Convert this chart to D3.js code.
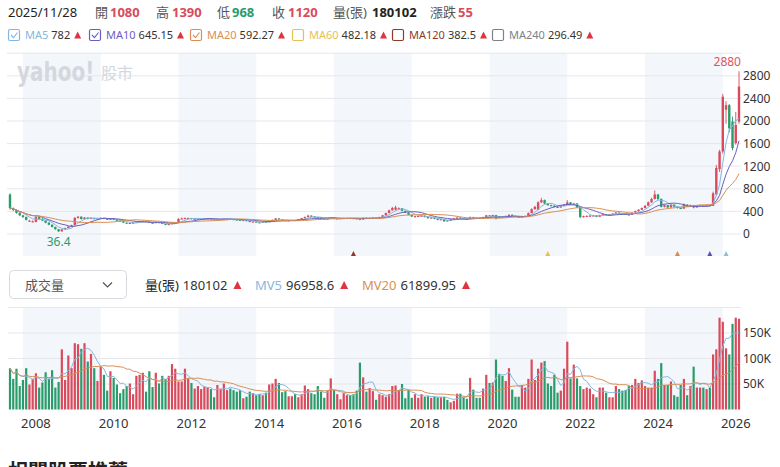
<!DOCTYPE html>
<html>
<head>
<meta charset="utf-8">
<script src="https://cdn.jsdelivr.net/npm/d3@7"></script>
<style>
  body { margin: 0; background: #fff; }
  svg { font-family: "Noto Sans", "Noto Sans CJK TC", sans-serif; }
</style>
</head>
<body>
<svg id="chart" width="780" height="467"></svg>
<script>
// Monthly candles, Feb 2007 .. Nov 2025 (one row per year)
var startYear = 2007, startMonth = 2;

var opens = [
  700,460,425,375,330,300,225,215,215,300,270,
  240,200,165,125,85,48,80,105,130,155,285,305,
  265,290,270,285,265,275,285,268,258,268,252,240,
  225,200,185,195,200,212,222,230,215,200,195,210,
  195,180,162,175,190,202,265,270,275,282,260,265,
  262,262,265,272,260,250,255,258,262,270,262,255,
  250,235,245,230,210,220,205,200,215,210,230,250,
  275,260,245,235,240,245,240,260,280,300,325,310,
  295,280,270,265,270,285,270,275,278,282,285,280,
  275,270,255,285,275,285,290,280,300,330,370,420,
  430,440,455,410,380,340,300,305,310,325,300,280,
  290,270,250,260,240,230,255,275,290,280,272,265,
  300,290,285,280,300,330,320,335,300,310,300,320,
  340,320,305,295,305,320,370,440,430,560,600,540,
  510,500,480,470,500,520,560,520,540,470,300,305,
  310,315,330,305,335,350,340,350,360,380,365,355,
  345,340,380,405,430,460,500,560,620,700,620,480,
  510,470,520,480,460,450,520,490,510,470,500,510,
  490,510,500,700,1150,1460,2200,2280,1990,1610,1990
];
var closes = [
  460,425,375,330,300,250,235,225,300,270,240,
  200,165,125,85,48,80,105,130,155,285,305,265,
  290,270,285,265,275,285,268,258,268,252,240,225,
  200,185,195,200,212,222,230,215,200,195,210,195,
  180,162,175,190,202,265,275,282,282,265,270,272,
  268,270,272,260,250,258,262,268,270,262,255,250,
  242,245,230,215,220,205,200,215,210,230,250,275,
  260,245,235,240,245,240,260,280,300,325,310,295,
  280,270,265,270,285,270,275,278,282,285,280,275,
  270,255,285,275,285,290,282,300,330,370,420,460,
  470,455,410,380,340,310,315,320,325,300,280,290,
  270,250,260,225,230,260,275,290,280,272,265,300,
  290,285,280,300,330,320,335,280,290,300,320,340,
  320,305,295,305,320,370,440,480,560,600,540,510,
  500,480,470,500,520,560,520,540,470,300,315,320,
  325,330,305,335,350,340,350,360,380,365,355,345,
  340,380,405,430,460,500,560,620,700,620,480,510,
  470,520,480,460,450,520,490,510,470,500,510,490,
  510,500,720,1170,1460,2430,2280,1870,1520,1930,2610
];
var highs = [
  720,470,435,385,340,310,250,240,315,305,280,
  245,210,170,130,90,90,115,140,165,300,320,315,
  300,295,295,290,285,295,290,272,275,270,255,245,
  228,205,200,205,218,228,236,232,218,205,215,212,
  198,184,180,196,208,280,290,292,290,285,278,278,
  275,276,280,275,262,264,268,274,276,272,265,258,
  252,250,248,232,226,222,210,220,220,236,256,282,
  280,262,248,246,250,248,266,286,310,340,330,315,
  300,284,274,276,292,288,280,284,288,292,288,284,
  280,275,292,290,290,296,292,306,338,378,432,480,
  500,470,460,415,385,345,322,326,332,328,305,296,
  294,275,266,265,245,266,280,298,295,285,276,310,
  305,294,290,306,338,334,342,340,306,315,326,348,
  345,325,310,312,328,380,455,500,580,640,610,548,
  520,510,488,510,530,600,565,550,545,480,325,330,
  335,338,335,342,358,355,356,366,388,384,370,360,
  350,386,412,438,470,510,575,640,770,710,630,525,
  515,535,525,490,470,540,525,520,515,510,520,515,
  520,520,750,1220,1490,2480,2350,2300,2080,2160,2880
];
var lows = [
  430,405,360,320,285,240,215,205,205,255,230,
  190,155,115,75,36.4,40,75,100,120,150,270,255,
  255,260,262,258,260,268,260,250,252,245,232,218,
  192,178,180,188,195,208,218,210,195,188,190,190,
  175,155,158,170,186,198,258,262,268,258,255,258,
  256,258,260,255,245,246,250,254,258,256,250,244,
  236,230,225,208,205,198,194,196,204,206,226,246,
  255,240,230,230,236,234,236,255,275,295,300,288,
  272,264,258,260,265,264,266,270,274,278,274,270,
  264,245,250,270,270,280,276,276,296,325,365,410,
  420,430,400,370,330,300,292,298,305,292,272,275,
  262,244,245,215,222,226,250,270,274,266,260,260,
  284,278,274,276,296,312,315,255,282,294,295,315,
  312,298,288,290,300,315,365,430,420,550,530,500,
  490,470,460,465,495,510,510,510,460,280,290,298,
  300,305,295,300,328,332,334,344,355,358,348,338,
  332,336,375,398,425,452,495,550,610,600,470,470,
  455,465,470,450,440,445,480,482,455,465,492,482,
  485,490,495,680,1100,1420,1950,1800,1480,1580,1950
];
// volume in thousand lots
var volumes = [
  81,60,80,46,58,81,49,60,71,43,53,
  73,60,77,43,54,118,58,106,81,130,128,119,
  130,94,109,81,56,84,68,37,75,62,49,32,
  40,46,51,30,66,68,72,35,75,44,72,51,
  66,60,66,89,80,55,55,80,61,52,41,46,
  40,45,43,40,24,48,41,51,38,41,38,35,
  38,22,25,35,32,28,30,28,33,49,51,60,
  52,34,36,26,26,30,24,30,47,40,32,30,
  46,35,23,37,61,38,30,20,32,28,28,30,
  37,92,63,35,42,36,19,30,28,25,30,46,
  47,38,50,22,38,23,30,23,30,25,26,23,
  25,24,24,25,19,14,17,31,31,25,21,62,
  39,23,23,41,68,52,53,98,70,66,56,81,
  39,25,25,48,43,60,98,58,80,92,95,51,
  46,68,33,37,80,133,61,88,61,46,40,43,
  41,30,24,43,43,33,24,24,46,40,37,38,
  46,48,60,52,57,46,43,43,76,60,91,48,
  48,55,28,25,48,60,28,46,84,43,43,43,
  40,43,108,118,180,172,120,108,168,180,178
];

var priceTicks = [0, 400, 800, 1200, 1600, 2000, 2400, 2800];
var priceGrid = [0, 400, 800, 1200, 1600, 2000, 2400, 2800, 3200];
var volTicks = [50, 100, 150];
var volGrid = [50, 100, 150, 200];
var yearLabels = ["2008","2010","2012","2014","2016","2018","2020","2022","2024","2026"];
var shadeStarts = ["2007-06","2011-06","2015-06","2019-06","2023-06"];
var markerMonths = ["2015-12","2020-12","2024-04","2025-02","2025-07"];
var markerColors = ["#8c3b2b","#e8bf4f","#d9894a","#5d50b3","#8fbde0"];

var quoteLabels = ["開","高","低","收","量(張)","漲跌"];
var quoteValues = ["1080","1390","968","1120","180102","55"];
var maNames = ["MA5","MA10","MA20","MA60","MA120","MA240"];
var maValues = ["782","645.15","592.27","482.18","382.5","296.49"];
var volLegendNames = ["量(張)","MV5","MV20"];
var volLegendValues = ["180102","96958.6","61899.95"];

// month categories
var months = closes.map(function(d, k) {
  var m = startMonth - 1 + k;
  return (startYear + Math.floor(m / 12)) + "-" + String(m % 12 + 1).padStart(2, "0");
});

var RED = "#d94b5c", GREEN = "#2a9b6b", TXT = "#333";
var maColors = ["#86b7e0","#6a5fc1","#d98f55","#e8bf4f","#8c3b2b","#7d8188"];

var svg = d3.select("#chart");

var x = d3.scaleBand().domain(months).range([8.38, 740.62]);
var bw = x.bandwidth();
var cx = function(m) { return x(m) + bw / 2; };
var yP = d3.scaleLinear().domain([0, 3200]).range([234, 53.2]);
var yV = d3.scaleLinear().domain([0, 200]).range([409.5, 307.5]);

function movingAvg(arr, n) {
  return arr.map(function(d, i) {
    return d3.mean(arr.slice(Math.max(0, i - n + 1), i + 1));
  });
}

function triangle(g, x0, cy, color, w) {
  w = w || 7;
  g.append("path")
    .attr("d", "M" + x0 + "," + (cy + w / 2) + "L" + (x0 + w) + "," + (cy + w / 2) + "L" + (x0 + w / 2) + "," + (cy - w / 2) + "Z")
    .attr("fill", color);
}

// ---- header row
var head = svg.append("g").attr("font-size", 13);
head.append("text").attr("x", 8).attr("y", 17).attr("fill", "#222").text("2025/11/28");
var qLabelX = [95, 156, 217, 272, 333, 430];
var qValueX = [110, 172, 232, 288, 372, 458];
var qColors = [RED, RED, GREEN, RED, "#222", RED];
quoteLabels.forEach(function(l, k) {
  head.append("text").attr("x", qLabelX[k]).attr("y", 17).attr("fill", "#555").text(l);
  head.append("text").attr("x", qValueX[k]).attr("y", 17).attr("fill", qColors[k])
    .attr("font-weight", "bold").text(quoteValues[k]);
});

// ---- MA legend row
var leg = svg.append("g").attr("font-size", 11);
var boxX = [8, 89, 190, 292, 392, 492];
var checked = [true, true, true, false, false, false];
maNames.forEach(function(n, k) {
  var lx = boxX[k];
  leg.append("rect").attr("x", lx + 0.5).attr("y", 29.5).attr("width", 11).attr("height", 11)
    .attr("rx", 1.5).attr("fill", "#fff").attr("stroke", maColors[k]).attr("stroke-width", 1.2);
  if (checked[k]) {
    leg.append("path").attr("d", "M" + (lx + 3) + ",35 L" + (lx + 5.5) + ",37.6 L" + (lx + 9.5) + ",32.5")
      .attr("fill", "none").attr("stroke", maColors[k]).attr("stroke-width", 1.1);
  }
  var t1 = leg.append("text").attr("x", lx + 17).attr("y", 39).attr("fill", maColors[k]).text(n);
  var vx = lx + 17 + t1.node().getComputedTextLength() + 3;
  var t2 = leg.append("text").attr("x", vx).attr("y", 39).attr("fill", TXT).text(maValues[k]);
  triangle(leg, vx + t2.node().getComputedTextLength() + 4, 35, "#e0323f", 7);
});

// ---- price panel
var price = svg.append("g");
shadeStarts.forEach(function(s) {
  var i0 = months.indexOf(s);
  var i1 = Math.min(i0 + 24, months.length - 1);
  price.append("rect").attr("x", cx(months[i0])).attr("y", 53)
    .attr("width", cx(months[i1]) - cx(months[i0])).attr("height", 203).attr("fill", "#f3f6fa");
});
price.selectAll(".pgrid").data(priceGrid).enter().append("line")
  .attr("x1", 7).attr("x2", 741).attr("y1", d => yP(d)).attr("y2", d => yP(d))
  .attr("stroke", "#e5e7ea").attr("stroke-width", 1);

// watermark
price.append("text").attr("transform", "translate(17,81) scale(1,1.3)")
  .attr("font-size", 20).attr("font-weight", "bold").attr("font-family", "DejaVu Sans")
  .attr("fill", "#d4d8de").text("yahoo!");
price.append("text").attr("x", 101).attr("y", 79).attr("font-size", 16).attr("fill", "#d4d8de").text("股市");

price.selectAll(".ptick").data(priceTicks).enter().append("text")
  .attr("x", 743).attr("y", d => yP(d)).attr("dy", "0.36em").attr("font-size", 12)
  .attr("fill", TXT).text(d => d);

var up = function(i) { return closes[i] >= opens[i]; };
var candles = price.append("g");
candles.selectAll(".wick").data(months).enter().append("line")
  .attr("x1", d => cx(d)).attr("x2", d => cx(d))
  .attr("y1", (d, i) => yP(highs[i])).attr("y2", (d, i) => yP(lows[i]))
  .attr("stroke", (d, i) => up(i) ? RED : GREEN).attr("stroke-width", 0.9);
candles.selectAll(".body").data(months).enter().append("rect")
  .attr("x", d => cx(d) - 1.2).attr("width", 2.4)
  .attr("y", (d, i) => yP(Math.max(opens[i], closes[i])))
  .attr("height", (d, i) => Math.max(1, Math.abs(yP(opens[i]) - yP(closes[i]))))
  .attr("fill", (d, i) => up(i) ? RED : GREEN);

[[5, 0], [10, 1], [20, 2]].forEach(function(p) {
  var ma = movingAvg(closes, p[0]);
  price.append("path").datum(ma)
    .attr("d", d3.line().x((d, i) => cx(months[i])).y(d => yP(d)))
    .attr("fill", "none").attr("stroke", maColors[p[1]]).attr("stroke-width", 1);
});

var hiIdx = d3.maxIndex(highs), loIdx = d3.minIndex(lows);
price.append("text").attr("x", cx(months[hiIdx]) + 2).attr("y", yP(highs[hiIdx]) - 5)
  .attr("text-anchor", "end").attr("font-size", 12).attr("fill", "#e0525e").text(highs[hiIdx]);
price.append("text").attr("x", cx(months[loIdx])).attr("y", yP(lows[loIdx]) + 14)
  .attr("text-anchor", "middle").attr("font-size", 12).attr("fill", GREEN).text(lows[loIdx]);

markerMonths.forEach(function(m, k) {
  triangle(price, cx(m) - 2.5, 253.5, markerColors[k], 5);
});

// ---- volume header
var vh = svg.append("g").attr("font-size", 13);
vh.append("rect").attr("x", 9.5).attr("y", 270.5).attr("width", 117).attr("height", 28).attr("rx", 4)
  .attr("fill", "#fff").attr("stroke", "#d7dbe0");
vh.append("text").attr("x", 25).attr("y", 289.5).attr("fill", "#555").text("成交量");
vh.append("path").attr("d", "M103,282.5 L107.5,287 L112,282.5").attr("fill", "none")
  .attr("stroke", "#555").attr("stroke-width", 1.2);
var vNameX = [145, 255, 362];
var vColors = ["#222", "#86b7e0", "#d98f55"];
volLegendNames.forEach(function(n, k) {
  var t1 = vh.append("text").attr("x", vNameX[k]).attr("y", 289.5).attr("fill", vColors[k]).text(n);
  var vx = vNameX[k] + t1.node().getComputedTextLength() + 4;
  var t2 = vh.append("text").attr("x", vx).attr("y", 289.5).attr("fill", TXT).text(volLegendValues[k]);
  triangle(vh, vx + t2.node().getComputedTextLength() + 6, 285, "#e0323f", 8);
});

// ---- volume panel
var vol = svg.append("g");
shadeStarts.forEach(function(s) {
  var i0 = months.indexOf(s);
  var i1 = Math.min(i0 + 24, months.length - 1);
  vol.append("rect").attr("x", cx(months[i0])).attr("y", 307.5)
    .attr("width", cx(months[i1]) - cx(months[i0])).attr("height", 102).attr("fill", "#f3f6fa");
});
vol.selectAll(".vgrid").data(volGrid).enter().append("line")
  .attr("x1", 8).attr("x2", 741).attr("y1", d => yV(d)).attr("y2", d => yV(d))
  .attr("stroke", "#e5e7ea");
vol.selectAll(".vtick").data(volTicks).enter().append("text")
  .attr("x", 743).attr("y", d => yV(d)).attr("dy", "0.36em").attr("font-size", 12)
  .attr("fill", TXT).text(d => d + "K");
vol.selectAll(".vbar").data(months).enter().append("rect")
  .attr("x", d => cx(d) - 1.1).attr("width", 2.2)
  .attr("y", (d, i) => yV(volumes[i])).attr("height", (d, i) => yV(0) - yV(volumes[i]))
  .attr("fill", (d, i) => up(i) ? RED : GREEN);
[[5, "#86b7e0"], [20, "#d98f55"]].forEach(function(p) {
  vol.append("path").datum(movingAvg(volumes, p[0]))
    .attr("d", d3.line().x((d, i) => cx(months[i])).y(d => yV(d)))
    .attr("fill", "none").attr("stroke", p[1]).attr("stroke-width", 1);
});

// ---- x axis years (tick sits at October of the previous year)
var xAxis = d3.axisBottom(x)
  .tickValues(yearLabels.map(y => (+y - 1) + "-10"))
  .tickFormat(d => String(+d.slice(0, 4) + 1))
  .tickSize(0).tickPadding(0);
var ax = svg.append("g").attr("transform", "translate(0,419)").call(xAxis);
ax.select(".domain").remove();
ax.selectAll("text").attr("font-size", 13).attr("fill", TXT)
  .attr("font-family", "Noto Sans, sans-serif");

// section heading at the bottom, mostly below the visible area
svg.append("text").attr("x", 8).attr("y", 479).attr("font-size", 20).attr("font-weight", "bold")
  .attr("fill", "#222").text("相關股票推薦");
</script>
</body>
</html>
